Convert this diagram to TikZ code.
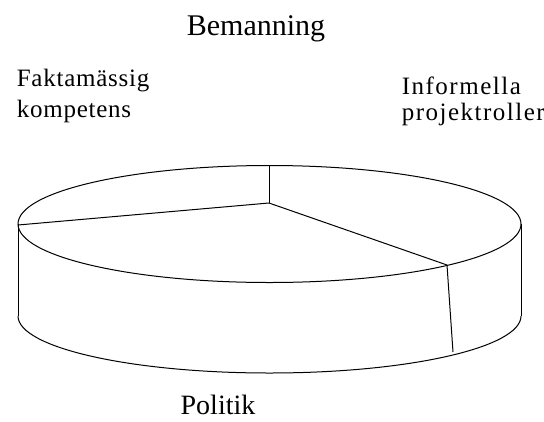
\documentclass[tikz,border=0pt]{standalone}
\usepackage{fontspec}
\setmainfont{Liberation Serif}
\newfontfamily\spacedfont[LetterSpace=3]{Liberation Serif}
\newfontfamily\widefont[LetterSpace=6]{Liberation Serif}
\usepackage{tikz}

\begin{document}
\begin{tikzpicture}[x=1pt, y=-1pt, line width=1pt,
  rubrik/.style={font=\fontsize{30}{36}\selectfont},
  delrubrik/.style={font=\spacedfont\fontsize{25}{31}\selectfont, align=left, anchor=base west}]

\useasboundingbox (0,0) rectangle (544,421);

% Rubrik
\node[rubrik, anchor=base] (titel) at (256, 35) {Bemanning};

% Cylinderns sidor
\coordinate (vtopp) at (18, 224);
\coordinate (htopp) at (521, 224);
\coordinate (vbotten) at (18, 316);
\coordinate (hbotten) at (521, 316);
\draw (vtopp) -- (vbotten);
\draw (htopp) -- (hbotten);
\draw (vbotten) arc[start angle=180, end angle=0, x radius=251.5, y radius=57];

% Ovansidan
\draw (269.5, 224) ellipse[x radius=251.5, y radius=58.5];

% Sektorer
\coordinate (mitt) at (269, 203);
\coordinate (upp) at (269, 165.5);
\coordinate (vanster) at (18, 225);
\coordinate (hoger) at (447, 265);
\coordinate (hogerned) at (453, 352);
\draw (mitt) -- (upp);
\draw (mitt) -- (vanster);
\draw (mitt) -- (hoger);
\draw (hoger) -- (hogerned);

% Etiketter
\node[delrubrik] (fakta) at (13, 117) {Faktamässig\\kompetens};
\node[delrubrik, font=\widefont\fontsize{25}{26}\selectfont] (informella) at (398, 120) {Informella\\projektroller};
\node[font=\fontsize{28}{34}\selectfont, anchor=base] (politik) at (218, 414) {Politik};

\end{tikzpicture}
\end{document}
